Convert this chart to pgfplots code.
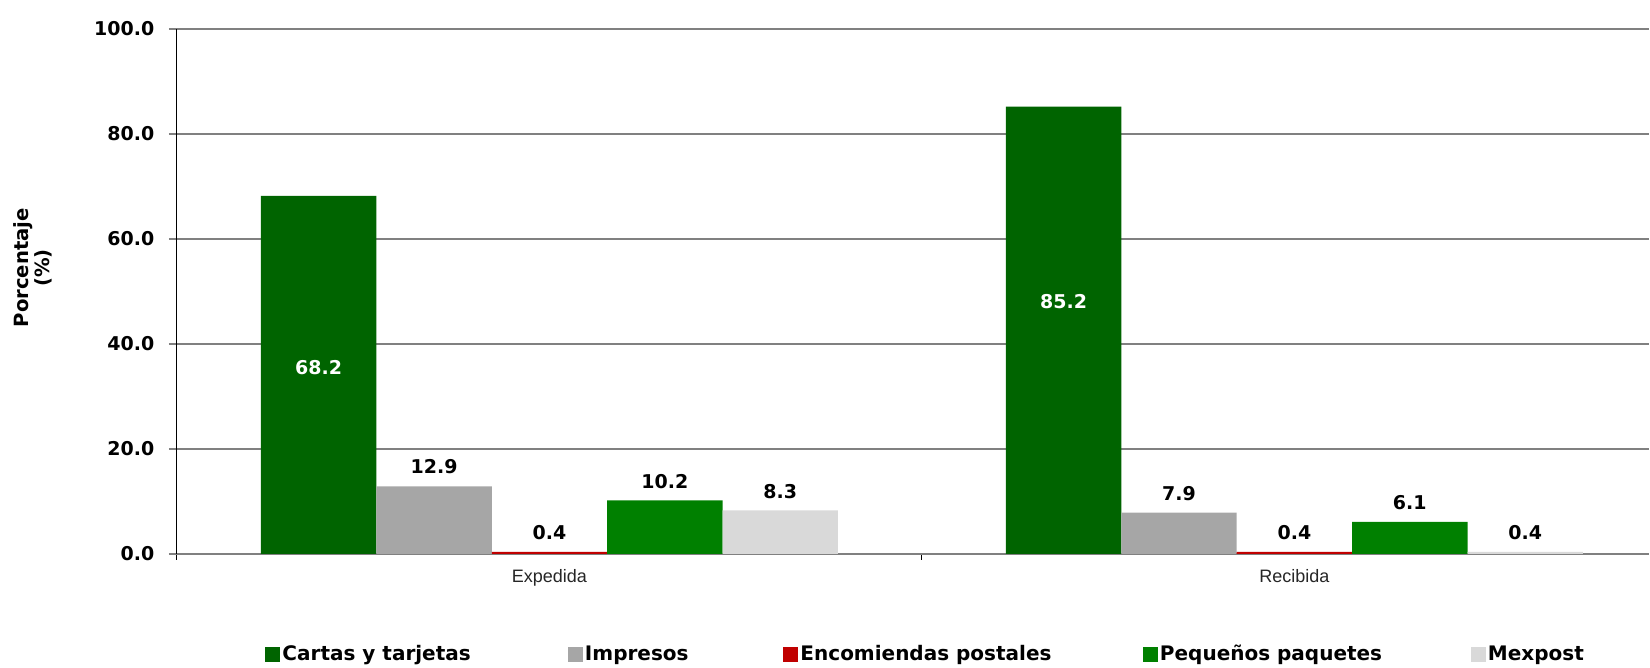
\documentclass[border=0pt]{standalone}
\usepackage{fontspec}
\setmainfont{DejaVu Sans}
\newfontfamily\labfont{Liberation Sans}
\usepackage{pgfplots}
\pgfplotsset{compat=1.18}
\definecolor{cA}{RGB}{0,100,0}
\definecolor{cB}{RGB}{166,166,166}
\definecolor{cC}{RGB}{192,0,0}
\definecolor{cD}{RGB}{0,128,0}
\definecolor{cE}{RGB}{217,217,217}
\definecolor{gridc}{RGB}{128,128,128}
\pgfplotsset{
  mybar/.style={ybar, bar width=0.1549, draw=none, fill=#1,
    legend image code/.code={\fill[#1] (0pt,-3.75pt) rectangle (7.5pt,3.75pt);}},
  vallab/.style={nodes near coords={\pgfmathprintnumber[fixed,fixed zerofill,precision=1]{\pgfplotspointmeta}},
    every node near coord/.append style={font=\fontsize{9.5}{11}\selectfont\bfseries, text=black, yshift=2.5pt, xshift=#1}},
}
\begin{document}
\begin{tikzpicture}
\begin{axis}[
  name=ax,
  scale only axis, width=736pt, height=262.5pt,
  xmin=-0.5, xmax=1.476, ymin=0, ymax=100,
  /pgf/number format/assume math mode=true,
  axis x line*=bottom, axis y line*=left,
  x axis line style={-, draw=gridc, line width=1pt},
  y axis line style={-, draw=black, line width=0.5pt},
  xtick={0,1}, xticklabels={Expedida,Recibida},
  major x tick style={draw=none},
  minor xtick={-0.5,0.5},
  minor x tick style={draw=black, line width=0.5pt},
  minor tick length=3pt,
  tick align=outside, major tick length=4pt,
  ytick={0,20,40,60,80,100},
  y tick style={draw=gridc, line width=1pt},
  yticklabel={\pgfmathprintnumber[fixed,fixed zerofill,precision=1]{\tick}},
  yticklabel style={font=\fontsize{9.5}{11}\selectfont\bfseries, xshift=-3.8pt},
  xticklabel style={font=\labfont\fontsize{9}{10}\selectfont, text=black!85},
  ymajorgrids, major grid style={draw=gridc, line width=1pt},
  ylabel={Porcentaje\\(\%)},
  ylabel style={font=\fontsize{9.8}{8.2}\selectfont\bfseries, align=center,
    at={(axis description cs:0,0.545)}, anchor=center, yshift=72.2pt},
  legend columns=-1,
  legend style={draw=none, fill=none, inner sep=0pt, outer sep=0pt,
    at={(0,0)}, anchor=west, xshift=44.25pt, yshift=-50.25pt,
    column sep=0pt, font=\fontsize{10}{11}\selectfont\bfseries,
    nodes={inner xsep=1pt, inner ysep=1pt}},
]
\addplot[mybar=cA, bar shift=-0.3098] coordinates {(0,68.2) (1,85.2)};
\addlegendentry{\makebox[141.75pt][l]{Cartas y tarjetas}}
\addplot[mybar=cB, bar shift=-0.1549, vallab=-57.7pt] coordinates {(0,12.9) (1,7.9)};
\addlegendentry{\makebox[98.25pt][l]{Impresos}}
\addplot[mybar=cC, bar shift=0, vallab=0pt] coordinates {(0,0.4) (1,0.4)};
\addlegendentry{\makebox[170.25pt][l]{Encomiendas postales}}
\addplot[mybar=cD, bar shift=0.1549, vallab=57.7pt] coordinates {(0,10.2) (1,6.1)};
\addlegendentry{\makebox[154.5pt][l]{Pequeños paquetes}}
\addplot[mybar=cE, bar shift=0.3098, vallab=115.4pt] coordinates {(0,8.3) (1,0.4)};
\addlegendentry{Mexpost}
% white labels inside the first series
\addplot[ybar, bar width=0.1549, bar shift=-0.3098, draw=none, fill=none, forget plot,
  point meta=explicit symbolic, nodes near coords,
  every node near coord/.append style={anchor=center, text=white, xshift=-115.4pt, font=\fontsize{9.5}{11}\selectfont\bfseries}]
  coordinates {(0,35.5) [68.2] (1,48.0) [85.2]};
\end{axis}
\pgfresetboundingbox
\useasboundingbox ([shift={(-88.5pt,-57pt)}]ax.south west) rectangle ([shift={(0.5pt,14.5pt)}]ax.north east);
\end{tikzpicture}
\end{document}
